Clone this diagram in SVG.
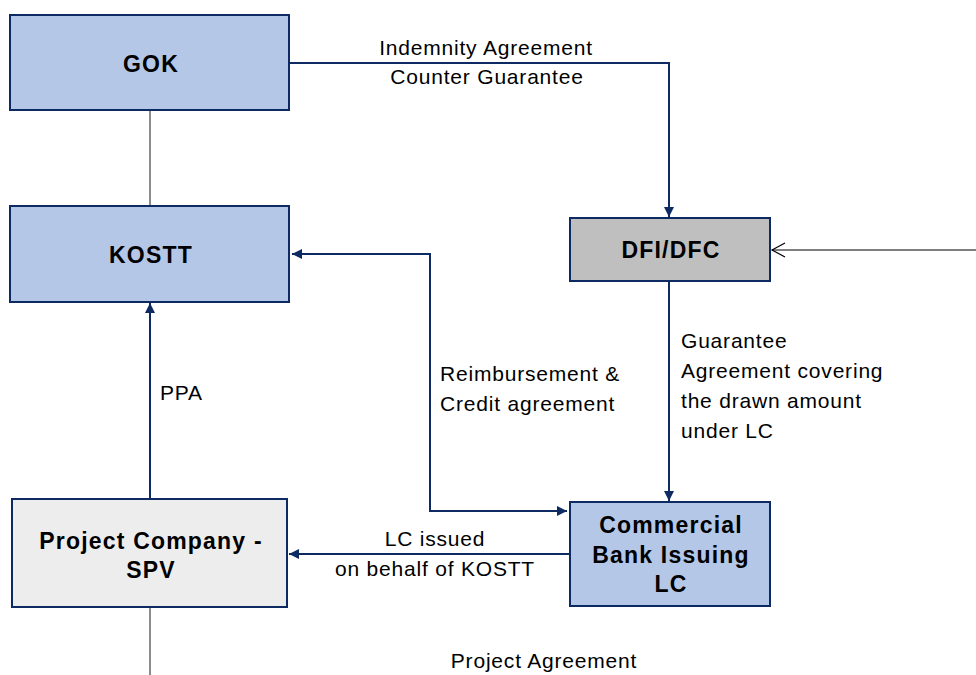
<svg xmlns="http://www.w3.org/2000/svg" width="976" height="675" viewBox="0 0 976 675">
<style>
.box{stroke:#0e2a63;stroke-width:2}
.blue{fill:#b4c7e7}
.grey{fill:#bfbfbf}
.light{fill:#ededed}
.nt{font-family:"Liberation Sans",Arial,sans-serif;font-weight:bold;font-size:23px;letter-spacing:1.2px;fill:#000;text-anchor:middle}
.lb{font-family:"Liberation Sans",Arial,sans-serif;font-size:21px;letter-spacing:0.8px;fill:#000}
.c{fill:none;stroke:#0e2a63;stroke-width:2}
.g{fill:none;stroke:#666;stroke-width:1.5}
</style>
<defs>
<marker id="ah" viewBox="0 0 10 10" refX="10" refY="5" markerWidth="5" markerHeight="5" orient="auto" markerUnits="strokeWidth">
<path d="M0,0 L10,5 L0,10 z" fill="#0e2a63"/>
</marker>
</defs>
<rect width="976" height="675" fill="#fff"/>
<g id="connectors">
<line class="g" x1="150" y1="110" x2="150" y2="206"/>
<line class="g" x1="150" y1="607" x2="150" y2="675"/>
<polyline class="c" points="290,63 669,63 669,217" marker-end="url(#ah)"/>
<line x1="976" y1="250" x2="772" y2="250" stroke="#000" stroke-width="1.2"/>
<polyline points="785,243 772,250 785,257" fill="none" stroke="#000" stroke-width="1.2"/>
<line class="c" x1="150" y1="499" x2="150" y2="303" marker-end="url(#ah)"/>
<polyline class="c" points="566,511 430,511 430,254 292,254" marker-end="url(#ah)"/>
<line class="c" x1="430" y1="511" x2="567" y2="511" marker-end="url(#ah)"/>
<line class="c" x1="669" y1="282" x2="669" y2="501" marker-end="url(#ah)"/>
<line class="c" x1="569" y1="554" x2="289" y2="554" marker-end="url(#ah)"/>
<text class="lb" x="486" y="55" text-anchor="middle">Indemnity Agreement</text>
<text class="lb" x="487" y="84" text-anchor="middle">Counter Guarantee</text>
<text class="lb" x="440" y="381">Reimbursement &amp;</text>
<text class="lb" x="440" y="411">Credit agreement</text>
<text class="lb" x="681" y="348">Guarantee</text>
<text class="lb" x="681" y="378">Agreement covering</text>
<text class="lb" x="681" y="408">the drawn amount</text>
<text class="lb" x="681" y="438">under LC</text>
<text class="lb" x="160" y="400">PPA</text>
<text class="lb" x="435" y="546" text-anchor="middle">LC issued</text>
<text class="lb" x="435" y="576" text-anchor="middle">on behalf of KOSTT</text>
<text class="lb" x="544" y="668" text-anchor="middle">Project Agreement</text>
</g>
<g id="gok">
<rect class="box blue" x="10" y="15" width="279" height="95"/>
<text class="nt" x="151" y="72">GOK</text>
</g>
<g id="kostt">
<rect class="box blue" x="10" y="206" width="279" height="96"/>
<text class="nt" x="151" y="263">KOSTT</text>
</g>
<g id="dfi">
<rect class="box grey" x="570" y="218" width="200" height="63"/>
<text class="nt" x="671" y="258">DFI/DFC</text>
</g>
<g id="spv">
<rect class="box light" x="12" y="499" width="275" height="108"/>
<text class="nt" x="151" y="549">Project Company -</text>
<text class="nt" x="151" y="578">SPV</text>
</g>
<g id="bank">
<rect class="box blue" x="570" y="502" width="200" height="104"/>
<text class="nt" x="671" y="533">Commercial</text>
<text class="nt" x="671" y="563">Bank Issuing</text>
<text class="nt" x="671" y="592">LC</text>
</g>
</svg>
